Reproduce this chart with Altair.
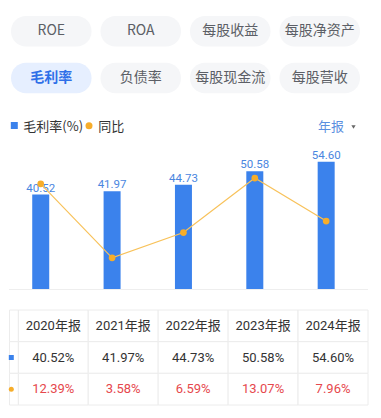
import altair as alt
import pandas as pd

# ---------------- data ----------------
years = ["2020年报", "2021年报", "2022年报", "2023年报", "2024年报"]
gross_margin = [40.52, 41.97, 44.73, 50.58, 54.60]
yoy_change = [12.39, 3.58, 6.59, 13.07, 7.96]

tab_labels = ["ROE", "ROA", "每股收益", "每股净资产", "毛利率", "负债率", "每股现金流", "每股营收"]
tab_cols = [0, 1, 2, 3, 0, 1, 2, 3]
tab_rows = [0, 0, 0, 0, 1, 1, 1, 1]
selected_tab = "毛利率"

legend_labels = ["毛利率(%)", "同比"]
period_label = "年报"
table_rows = ["head", "gross", "yoy"]

# ---------------- style ----------------
CJK = "'Noto Sans CJK SC', sans-serif"
NUM = "Roboto, 'Noto Sans CJK SC', sans-serif"
BLUE = "#3b82ec"
LABEL_BLUE = "#4a86e0"
ORANGE = "#f6ad2a"
LINE_ORANGE = "#f8c25a"
RED = "#e6484d"
DARK = "#333333"
GRID = "#ececec"

W = 360

# ---------------- tabs ----------------
tab_df = pd.DataFrame({"label": tab_labels, "col": tab_cols, "row": tab_rows})
tab_df["sel"] = ["yes" if t == selected_tab else "no" for t in tab_labels]

tx = alt.X("col:O", scale=alt.Scale(range=[2, 351], paddingInner=0.1, paddingOuter=0), axis=None)
ty = alt.Y("row:O", scale=alt.Scale(range=[8, 85.3], paddingInner=0.345, paddingOuter=0), axis=None)
tbase = alt.Chart(tab_df).encode(x=tx, y=ty)

pills = tbase.mark_rect(cornerRadius=15).encode(
    fill=alt.Fill("sel:N", scale=alt.Scale(domain=["no", "yes"], range=["#f5f6f8", "#e6efff"]), legend=None)
)
tab_text = tbase.mark_text(font=CJK, fontSize=14, color="#5c5f66", baseline="middle").encode(
    text="label:N"
).transform_filter(alt.datum.sel == "no")
tab_text_sel = tbase.mark_text(font=CJK, fontSize=14, fontWeight="bold", color="#2f6fe8", baseline="middle").encode(
    text="label:N"
).transform_filter(alt.datum.sel == "yes")

tabs = alt.layer(pills, tab_text, tab_text_sel).properties(width=W, height=86)

# ---------------- main chart ----------------
df = pd.DataFrame({"year": years, "gross": gross_margin, "yoy": yoy_change})
df["label"] = [f"{v:.2f}" for v in gross_margin]

mx = alt.X("year:N", sort=years,
           scale=alt.Scale(range=[-3.95, 352.85], paddingInner=0, paddingOuter=0), axis=None)
gy = alt.Y("gross:Q", scale=alt.Scale(domain=[0, 74.7], nice=False), axis=None)
yy = alt.Y("yoy:Q", scale=alt.Scale(domain=[-0.13, 20.58], nice=False, zero=False), axis=None)

one = pd.DataFrame({"k": [0]})
base_rule = alt.Chart(one).mark_rule(color="#eeeeee", strokeWidth=1).encode(
    x=alt.value(0), x2=alt.value(359), y=alt.value(174.5)
)
bars = alt.Chart(df).mark_bar(width=17, color=BLUE).encode(x=mx, y=gy)
labels = alt.Chart(df).mark_text(font=NUM, fontSize=11.5, color=LABEL_BLUE, baseline="bottom", dy=-1).encode(
    x=mx, y=gy, text="label:N"
)
line = alt.Chart(df).mark_line(color=LINE_ORANGE, strokeWidth=1.2).encode(x=mx, y=yy)
pts = alt.Chart(df).mark_circle(size=45, color=ORANGE, opacity=1).encode(x=mx, y=yy)

leg1 = pd.DataFrame({"name": [legend_labels[0]]})
leg2 = pd.DataFrame({"name": [legend_labels[1]]})
per = pd.DataFrame({"name": [period_label]})
leg_sq = alt.Chart(leg1).mark_square(size=49, color=BLUE, opacity=1).encode(x=alt.value(5.3), y=alt.value(10.5))
leg_t1 = alt.Chart(leg1).mark_text(font=CJK, fontSize=13, color=DARK, align="left", baseline="middle").encode(
    x=alt.value(14.3), y=alt.value(11.5), text="name:N")
leg_dot = alt.Chart(leg2).mark_circle(size=49, color=ORANGE, opacity=1).encode(x=alt.value(80), y=alt.value(10.7))
leg_t2 = alt.Chart(leg2).mark_text(font=CJK, fontSize=13, color=DARK, align="left", baseline="middle").encode(
    x=alt.value(89.3), y=alt.value(11.5), text="name:N")
per_t = alt.Chart(per).mark_text(font=CJK, fontSize=13, color="#5b8fe0", align="left", baseline="middle").encode(
    x=alt.value(309), y=alt.value(12), text="name:N")
per_tri = alt.Chart(per).mark_point(shape="triangle-down", filled=True, size=18, color="#666666", opacity=1).encode(
    x=alt.value(344.5), y=alt.value(12))

main = alt.layer(
    base_rule, bars, labels, line, pts, leg_sq, leg_t1, leg_dot, leg_t2, per_t, per_tri
).resolve_scale(y="independent").properties(width=W, height=174)

# ---------------- table ----------------
cells = []
for i, yname in enumerate(years):
    cells.append({"year": yname, "row": "head", "txt": yname})
    cells.append({"year": yname, "row": "gross", "txt": f"{gross_margin[i]:.2f}%"})
    cells.append({"year": yname, "row": "yoy", "txt": f"{yoy_change[i]:.2f}%"})
cell_df = pd.DataFrame(cells)
row_df = pd.DataFrame({"row": table_rows, "icon": ["none", "bar", "line"]})

cx = alt.X("year:N", sort=years, scale=alt.Scale(range=[9.3, 359], paddingInner=0, paddingOuter=0), axis=None)
cy = alt.Y("row:N", sort=table_rows, scale=alt.Scale(domain=table_rows, range=[0, 95], paddingInner=0, paddingOuter=0), axis=None)

cell_rect = alt.Chart(cell_df).mark_rect(fill="white", stroke=GRID, strokeWidth=1).encode(x=cx, y=cy)
icon_rect = alt.Chart(row_df).mark_rect(fill="white", stroke=GRID, strokeWidth=1).encode(
    x=alt.value(0.5), x2=alt.value(9.3), y=cy)
icon_sq = alt.Chart(row_df).mark_square(size=25, color=BLUE, opacity=1).encode(
    x=alt.value(2.3), y=cy).transform_filter(alt.datum.icon == "bar")
icon_dot = alt.Chart(row_df).mark_circle(size=25, color=ORANGE, opacity=1).encode(
    x=alt.value(2.3), y=cy).transform_filter(alt.datum.icon == "line")
cell_text = alt.Chart(cell_df).mark_text(font=NUM, fontSize=13, baseline="middle").encode(
    x=cx, y=cy, text="txt:N",
    color=alt.Color("row:N", scale=alt.Scale(domain=table_rows, range=[DARK, DARK, RED]), legend=None),
)

table = alt.layer(cell_rect, icon_rect, icon_sq, icon_dot, cell_text).properties(width=W, height=95)

chart = alt.vconcat(tabs, main, table, spacing=21).properties(
    padding=0, background="white", bounds="flush"
).configure_view(stroke=None)

chart.save("out.html", embed_options={"renderer": "svg", "actions": False})
